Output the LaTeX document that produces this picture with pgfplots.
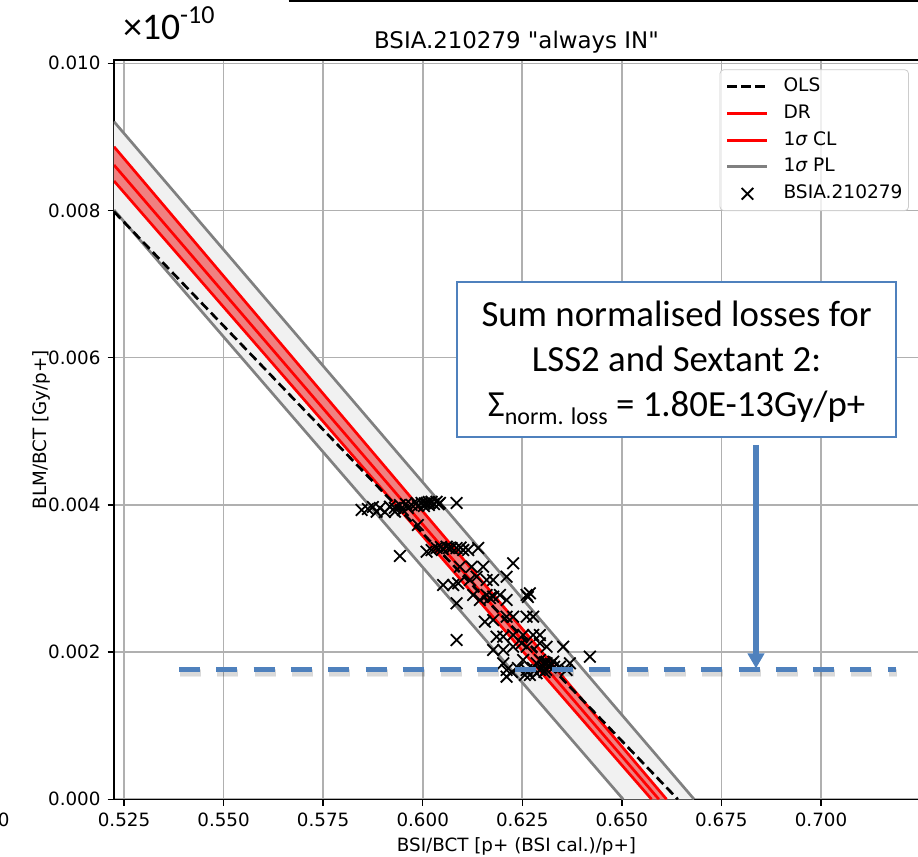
\documentclass[border=0pt]{standalone}
\usepackage{pgfplots}
\pgfplotsset{compat=1.18}
\usepackage{pgfplotstable}
\usepackage{fontspec}
\setmainfont{DejaVu Sans}
\newfontfamily\dvq[Ligatures=TeXOff]{DejaVu Sans}
\newfontfamily\calib{Carlito}
\usetikzlibrary{arrows.meta}
\definecolor{plfill}{RGB}{241,241,241}
\definecolor{clfill}{RGB}{240,128,128}
\definecolor{plline}{RGB}{128,128,128}
\definecolor{gridc}{RGB}{176,176,176}
\definecolor{pptblue}{RGB}{79,129,189}

\pgfplotstableread{
x y
0.58466 0.003931
0.58750 0.003971
0.58843 0.003908
0.58926 0.003958
0.59177 0.003976
0.59302 0.003908
0.59428 0.003999
0.59503 0.003931
0.59721 0.003999
0.59847 0.004026
0.59972 0.004026
0.60098 0.004026
0.60223 0.004043
0.60349 0.004043
0.60432 0.004026
0.60851 0.004026
0.59578 0.004012
0.59879 0.003985
0.60030 0.003985
0.60156 0.003999
0.60281 0.004012
0.59628 0.003958
0.59051 0.003904
0.58624 0.003944
0.60050 0.004020
0.60150 0.004040
0.60400 0.004010
0.59300 0.003960
0.59879 0.003727
0.59428 0.003306
0.60098 0.003364
0.60223 0.003387
0.60349 0.003414
0.60600 0.003432
0.60726 0.003414
0.60851 0.003414
0.61017 0.003387
0.61142 0.003387
0.61393 0.003414
0.60457 0.003428
0.60658 0.003414
0.60500 0.003400
0.60950 0.003420
0.60934 0.003160
0.61227 0.003160
0.61518 0.003160
0.62271 0.003207
0.60514 0.002912
0.60765 0.002912
0.60891 0.002935
0.61185 0.002980
0.61353 0.003024
0.61604 0.002980
0.61769 0.002980
0.62106 0.003024
0.60851 0.002663
0.61268 0.002776
0.61436 0.002708
0.61604 0.002776
0.61769 0.002753
0.61938 0.002776
0.62106 0.002708
0.62608 0.002776
0.62691 0.002799
0.62640 0.002749
0.61687 0.002735
0.61561 0.002413
0.61769 0.002436
0.62106 0.002481
0.62271 0.002481
0.62608 0.002481
0.62774 0.002481
0.60851 0.002164
0.61855 0.002209
0.62022 0.002209
0.62271 0.002232
0.62522 0.002232
0.62774 0.002232
0.62942 0.002232
0.61769 0.002029
0.62022 0.002029
0.62271 0.002073
0.62483 0.002120
0.62608 0.002073
0.62942 0.002120
0.63110 0.002073
0.63527 0.002073
0.64197 0.001938
0.62022 0.001848
0.62106 0.001757
0.62106 0.001666
0.62522 0.001893
0.62608 0.001757
0.62691 0.001689
0.62859 0.001848
0.62942 0.001893
0.63024 0.001802
0.63110 0.001848
0.63193 0.001802
0.63276 0.001870
0.63444 0.001802
0.63611 0.001757
0.63695 0.001848
0.62859 0.001712
0.62565 0.001689
0.62766 0.001784
0.62942 0.001757
0.63057 0.001730
0.62389 0.001784
0.62239 0.001730
0.63060 0.001860
0.63140 0.001820
0.63220 0.001840
0.62980 0.001780
0.63300 0.001800
0.63100 0.001760
}\scatterdata

\begin{document}
\begin{tikzpicture}
\begin{axis}[
  at={(57pt,28.85pt)}, anchor=south west,
  scale only axis, width=402.75pt, height=369.65pt,
  xmin=0.52249, xmax=0.72473, ymin=0, ymax=0.010045,
  xtick={0.525,0.55,0.575,0.6,0.625,0.65,0.675,0.7},
  ytick={0,0.002,0.004,0.006,0.008,0.01},
  scaled x ticks=false, scaled y ticks=false,
  /pgf/number format/assume math mode=true,
  xticklabel style={/pgf/number format/.cd, fixed, fixed zerofill, precision=3},
  yticklabel style={/pgf/number format/.cd, fixed, fixed zerofill, precision=3},
  tick label style={font=\fontsize{9.15}{11}\selectfont, text=black},
  tick align=outside, xtick pos=bottom, ytick pos=left,
  major tick length=3.2pt,
  every tick/.style={black, line width=0.7pt},
  grid=major, major grid style={gridc, line width=0.8pt},
  axis line style={black, line width=0.75pt},
  legend image code/.code={\draw[mark repeat=2,mark phase=2,#1] plot coordinates {(0pt,0pt) (10pt,0pt) (20pt,0pt)};},
  legend cell align=left,
  legend style={at={(0.98696,0.98742)}, anchor=north east, draw=black!20, rounded corners=2pt,
    fill=white, fill opacity=0.8, text opacity=1, draw opacity=1,
    font=\fontsize{9.3}{11}\selectfont,
    inner xsep=3pt, inner ysep=4pt, row sep=4.5pt, column sep=7.3pt,
    nodes={inner sep=0pt, text height=6.9pt, text depth=2pt}},
]
% legend entries
\addlegendimage{black, line width=1.35pt, dash pattern=on 4.7pt off 2.3pt}
\addlegendentry{OLS}
\addlegendimage{red, line width=1.35pt}
\addlegendentry{DR}
\addlegendimage{red, line width=1.35pt}
\addlegendentry{1{\itshape σ} CL}
\addlegendimage{plline, line width=1.5pt}
\addlegendentry{1{\itshape σ} PL}
\addlegendimage{only marks, mark=x, mark size=4.1pt, black, line width=0.9pt}
\addlegendentry{BSIA.210279}
% prediction band
\addplot[fill=plfill, draw=none, forget plot] coordinates {(0.52249,0.009207) (0.66815,0) (0.65033,0) (0.52249,0.008007)} -- cycle;
\addplot[plline, line width=1.35pt, forget plot] coordinates {(0.52249,0.009207) (0.66815,0)};
\addplot[plline, line width=1.35pt, forget plot] coordinates {(0.52249,0.008007) (0.65033,0)};
% confidence band
\addplot[fill=clfill, draw=none, forget plot] coordinates {(0.52249,0.008867) (0.66122,0) (0.65746,0) (0.52249,0.008401)} -- cycle;
\addplot[red, line width=1.35pt, forget plot] coordinates {(0.52249,0.008867) (0.66122,0)};
\addplot[red, line width=1.35pt, forget plot] coordinates {(0.52249,0.008401) (0.65746,0)};
% DR
\addplot[red, line width=1.35pt, forget plot] coordinates {(0.52249,0.008618) (0.65929,0)};
% OLS
\addplot[black, line width=1.35pt, dash pattern=on 4.7pt off 2.3pt, forget plot] coordinates {(0.52249,0.007984) (0.66406,0)};
% data
\addplot[only marks, mark=x, mark size=4.1pt, black, line width=0.9pt, forget plot] table[x=x,y=y] {\scatterdata};
\end{axis}

% outer texts
\node[anchor=base west, inner sep=0pt] at (61.5pt,408.5pt) {\calib\fontsize{18.8}{20}\selectfont ×10\raisebox{8pt}{\fontsize{13}{14}\selectfont -10}};
\node[anchor=base, inner sep=0pt] at (258.25pt,404.35pt) {\fontsize{11.45}{13}\selectfont BSIA.210279 {\dvq "}always IN{\dvq "}};
\node[anchor=base, inner sep=0pt] at (258.25pt,2.65pt) {\fontsize{9.15}{11}\selectfont BSI/BCT [p+ (BSI cal.)/p+]};
\node[anchor=base, rotate=90, inner sep=0pt] at (23.5pt,213.75pt) {\fontsize{9.15}{11}\selectfont BLM/BCT [Gy/p+]};
\node[anchor=base east, inner sep=0pt] at (5pt,15.15pt) {\fontsize{9.15}{11}\selectfont 0};
\draw[line width=1pt] (144.3pt,428pt) -- (460pt,428pt);

% annotation
\draw[black, opacity=0.08, line width=4pt, dash pattern=on 10.5pt off 8.15pt] (90pt,92pt) -- (448.5pt,92pt);
\draw[black, opacity=0.08, line width=2.6pt, dash pattern=on 10.5pt off 8.15pt] (90pt,92pt) -- (448.5pt,92pt);
\draw[pptblue, line width=2.5pt, dash pattern=on 10.5pt off 8.15pt] (89.5pt,93.85pt) -- (448pt,93.85pt);
\draw[pptblue, line width=2.6pt, -{Triangle[width=8pt,length=7.5pt]}] (378pt,206pt) -- (378pt,94.25pt);
\draw[pptblue, line width=0.9pt, fill=white] (228.65pt,209.85pt) rectangle (448pt,287.5pt);
\node[anchor=base, inner sep=0pt] at (338.3pt,265.15pt) {\calib\fontsize{18.4}{20}\selectfont Sum normalised losses for};
\node[anchor=base, inner sep=0pt] at (338.3pt,242.65pt) {\calib\fontsize{18.4}{20}\selectfont LSS2 and Sextant 2:};
\node[anchor=base, inner sep=0pt] at (338.3pt,220.15pt) {\calib\fontsize{18.4}{20}\selectfont Σ\raisebox{-4pt}{\fontsize{12}{13}\selectfont norm. loss} = 1.80E-13Gy/p+};

\pgfresetboundingbox
\path (0,0) rectangle (459pt,428.5pt);
\end{tikzpicture}
\end{document}
